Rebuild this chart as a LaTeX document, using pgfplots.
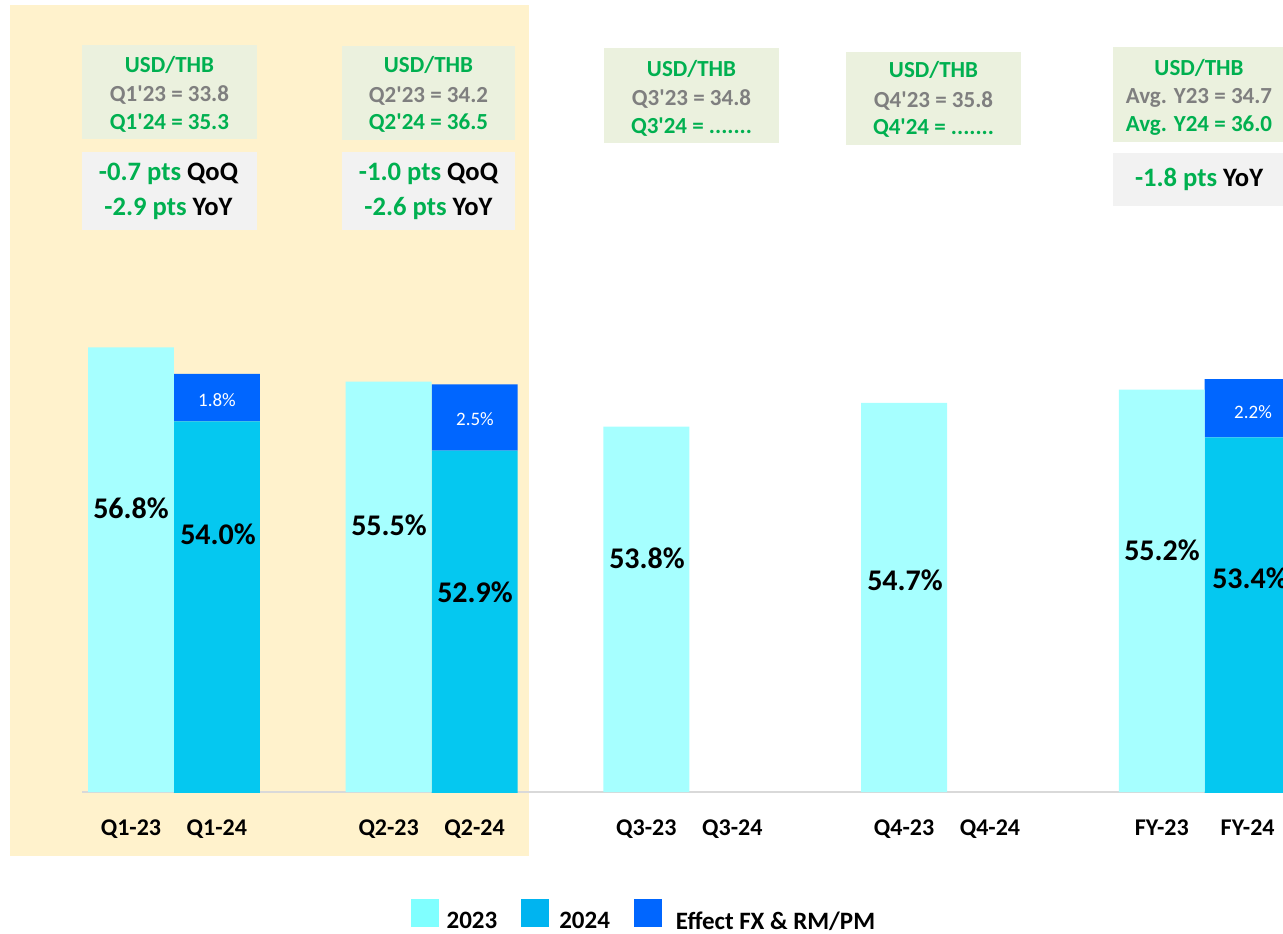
\documentclass[border=0pt]{standalone}
\usepackage{fontspec}
\setmainfont{Carlito}
\usepackage{pgfplots}
\usepackage{pgfplotstable}
\pgfplotsset{compat=1.18}

\definecolor{beige}{HTML}{FFF2CC}
\definecolor{greenbox}{HTML}{EBF1DE}
\definecolor{graybox}{HTML}{F2F2F2}
\definecolor{c2023}{HTML}{A6FFFF}
\definecolor{c2024}{HTML}{05C8F0}
\definecolor{ceff}{HTML}{0066FF}
\definecolor{l2023}{HTML}{80FFFF}
\definecolor{l2024}{HTML}{00B4F0}
\definecolor{tgreen}{HTML}{00B050}
\definecolor{tgray}{HTML}{7F7F7F}
\definecolor{linegray}{HTML}{D9D9D9}

% x: 0,1 = Q1-23,Q1-24; 3,4 = Q2; 6,7 = Q3; 9,10 = Q4; 12,13 = FY
\pgfplotstableread{
x    y23   y24   eff
0    56.8  0     0
1    0     54.0  1.8
3    55.5  0     0
4    0     52.9  2.5
6    53.8  0     0
7    0     0     0
9    54.7  0     0
10   0     0     0
12   55.2  0     0
13   0     53.4  2.2
}\margin

\newcommand\bfs[1]{\fontsize{#1}{#1}\selectfont\bfseries}
\newcommand\q{\textquotesingle}

\begin{document}
\begin{tikzpicture}
% pixel grid of the reference: 1 px = 0.5pt, y down
\begin{scope}[x=0.5pt,y=-0.5pt]
\fill[beige] (10,5) rectangle (529,856);
\end{scope}

\begin{axis}[
  at={(41pt,-396pt)}, anchor=south west,
  x=42.95pt, y=13.235pt,
  xmin=-0.57, xmax=13.41, ymin=40, ymax=69.92,
  ybar stacked, bar width=1,
  axis x line*=bottom, axis y line=none,
  x axis line style={draw=linegray, -, line width=0.8pt},
  ytick=\empty,
  xtick={0,1,3,4,6,7,9,10,12,13},
  xticklabels={Q1-23,Q1-24,Q2-23,Q2-24,Q3-23,Q3-24,Q4-23,Q4-24,FY-23,FY-24},
  xtick style={draw=none}, major tick length=0pt,
  xticklabel style={anchor=base, yshift=-21.5pt, font=\bfs{12}},
  legend style={at={(0.4687,-0.159)}, anchor=center, draw=none, fill=none,
    legend columns=3, font=\bfs{12.5},
    /tikz/every even column/.append style={column sep=10pt}},
]
\addplot[fill=c2023, draw=none,
  legend image code/.code={\fill[l2023] (0pt,-2.5pt) rectangle (14pt,11.5pt);
    \path (16pt,0pt);}] table[x=x, y=y23] {\margin};
\addlegendentry{2023}
\addplot[fill=c2024, draw=none,
  legend image code/.code={\fill[l2024] (0pt,-2.5pt) rectangle (14pt,11.5pt);
    \path (17pt,0pt);}] table[x=x, y=y24] {\margin};
\addlegendentry{2024}
\addplot[fill=ceff, draw=none,
  legend image code/.code={\fill[ceff] (0pt,-2.5pt) rectangle (14pt,11.5pt);
    \path (19pt,0pt);}] table[x=x, y=eff] {\margin};
\addlegendentry{Effect FX \& RM/PM}
\end{axis}

\begin{scope}[x=0.5pt,y=-0.5pt]
% USD/THB boxes
\fill[greenbox] (82,45) rectangle (257,139);
\fill[greenbox] (342,46) rectangle (515,140);
\fill[greenbox] (604,48) rectangle (779,143);
\fill[greenbox] (846,52) rectangle (1021,145);
\fill[greenbox] (1113,47) rectangle (1290,142);
% change boxes
\fill[graybox] (82,152) rectangle (257,230);
\fill[graybox] (342,152) rectangle (515,230);
\fill[graybox] (1113,153) rectangle (1290,206);

\begin{scope}[every node/.style={anchor=base, inner sep=0pt, font=\bfs{11.5}}]
\node[text=tgreen] at (169.5,72) {USD/THB};
\node[text=tgray]  at (169.5,101) {Q1\q23 = 33.8};
\node[text=tgreen] at (169.5,129) {Q1\q24 = 35.3};
\node[text=tgreen] at (428.5,72) {USD/THB};
\node[text=tgray]  at (428.5,102) {Q2\q23 = 34.2};
\node[text=tgreen] at (428.5,129) {Q2\q24 = 36.5};
\node[text=tgreen] at (691.5,76) {USD/THB};
\node[text=tgray]  at (691.5,105) {Q3\q23 = 34.8};
\node[text=tgreen] at (691.5,133) {Q3\q24 = .......};
\node[text=tgreen] at (933.5,77) {USD/THB};
\node[text=tgray]  at (933.5,107) {Q4\q23 = 35.8};
\node[text=tgreen] at (933.5,134) {Q4\q24 = .......};
\node[text=tgreen] at (1199,75) {USD/THB};
\node[text=tgray]  at (1199,103) {Avg. Y23 = 34.7};
\node[text=tgreen] at (1199,131) {Avg. Y24 = 36.0};
\end{scope}

\begin{scope}[every node/.style={anchor=base, inner sep=0pt, font=\bfs{13.3}}]
\node at (168.5,180) {\textcolor{tgreen}{-0.7 pts} QoQ};
\node at (168.5,215) {\textcolor{tgreen}{-2.9 pts} YoY};
\node at (428.5,180) {\textcolor{tgreen}{-1.0 pts} QoQ};
\node at (428.5,215) {\textcolor{tgreen}{-2.6 pts} YoY};
\node at (1199,186) {\textcolor{tgreen}{-1.8 pts} YoY};
\end{scope}

% bar value labels
\begin{scope}[every node/.style={inner sep=0pt, font=\bfs{15}}]
\node at (131,508) {56.8\%};
\node at (218,534) {54.0\%};
\node at (389,525) {55.5\%};
\node at (475,592) {52.9\%};
\node at (647,558) {53.8\%};
\node at (905,580) {54.7\%};
\node at (1162,550) {55.2\%};
\node at (1250,578) {53.4\%};
\end{scope}
\begin{scope}[every node/.style={inner sep=0pt, text=white, font=\fontsize{9.5}{10}\selectfont}]
\node at (217,400) {1.8\%};
\node at (475,419) {2.5\%};
\node at (1253,412) {2.2\%};
\end{scope}

\pgfresetboundingbox
\path[use as bounding box] (0,0) rectangle (1283,933);
\end{scope}
\end{tikzpicture}
\end{document}
